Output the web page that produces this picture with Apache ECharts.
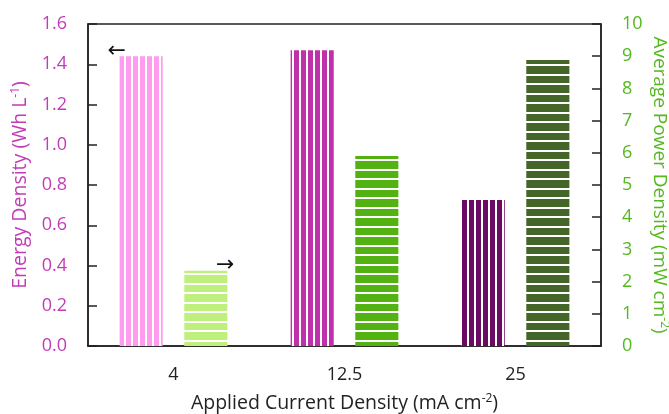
<!DOCTYPE html>
<html>
<head>
<meta charset="utf-8">
<script src="https://cdn.jsdelivr.net/npm/echarts@6/dist/echarts.min.js"></script>
<style>
  html, body { margin: 0; padding: 0; background: #fff; }
  #main { width: 669px; height: 414px; }
</style>
</head>
<body>
<div id="main"></div>
<script>
const categories = ['4', '12.5', '25']
const energy = [1.44, 1.47, 0.725]   // Wh L-1
const power = [2.34, 5.9, 8.88]      // mW cm-2
const energyColors = ['#ff9cf0', '#c030aa', '#6b0a63']
const powerColors = ['#bff07e', '#52b212', '#446628']

const FONT = 'Open Sans'
const LEFT_COLOR = '#c23cb6'
const RIGHT_COLOR = '#55b81f'
const LINE = '#222'

// 竖条纹
function vStripe(color) {
  const c = document.createElement('canvas')
  c.width = 7; c.height = 4
  const ctx = c.getContext('2d')
  ctx.fillStyle = '#fff'
  ctx.fillRect(0, 0, 7, 4)
  ctx.fillStyle = color
  ctx.fillRect(0, 0, 5, 4)
  return { image: c, repeat: 'repeat' }
}
// 横条纹
function hStripe(color) {
  const c = document.createElement('canvas')
  c.width = 4; c.height = 19
  const ctx = c.getContext('2d')
  ctx.fillStyle = '#fff'
  ctx.fillRect(0, 0, 4, 19)
  ctx.fillStyle = color
  ctx.fillRect(0, 0, 4, 7)
  ctx.fillRect(0, 9, 4, 8)
  return { image: c, repeat: 'repeat' }
}

const arrowLabel = (text, pos) => ({
  show: true,
  position: pos,
  align: 'center',
  verticalAlign: 'middle',
  formatter: text,
  color: '#111',
  fontSize: 22,
  fontFamily: 'DejaVu Sans'
})

const sup = color => ({ fontSize: 12, verticalAlign: 'top', padding: [0, 0, 9, 0], color: color, fontFamily: FONT })

const chart = echarts.init(document.getElementById('main'), null, { renderer: 'canvas' })

const option = {
  animation: false,
  textStyle: { fontFamily: FONT },
  grid: {
    left: 88, right: 68, top: 24, bottom: 68,
    outerBoundsMode: 'none',
    show: true, borderColor: LINE, borderWidth: 1.5
  },
  xAxis: {
    type: 'category',
    data: categories,
    name: 'Applied Current Density (mA cm{sup|-2})',
    nameLocation: 'middle',
    nameMoveOverlap: false,
    nameGap: 47,
    nameTextStyle: {
      fontSize: 19.5, color: '#222', fontFamily: FONT,
      rich: { sup: sup('#222') }
    },
    axisLine: { lineStyle: { color: LINE, width: 1.5 } },
    axisTick: { show: false },
    axisLabel: { fontSize: 18, color: '#222', margin: 20 }
  },
  yAxis: [
    {
      type: 'value',
      min: 0, max: 1.6, interval: 0.2,
      name: 'Energy Density (Wh L{sup|-1})',
      nameLocation: 'middle',
      nameMoveOverlap: false,
      nameGap: 57,
      nameTextStyle: {
        fontSize: 19.5, color: LEFT_COLOR, fontFamily: FONT,
        rich: { sup: sup(LEFT_COLOR) }
      },
      axisLine: { show: true, lineStyle: { color: LINE, width: 1.5 } },
      axisTick: { show: true, inside: true, length: 9, lineStyle: { color: LINE, width: 1.5 } },
      axisLabel: { fontSize: 18, color: LEFT_COLOR, margin: 21, formatter: v => v.toFixed(1) },
      splitLine: { show: false }
    },
    {
      type: 'value',
      min: 0, max: 10, interval: 1,
      name: 'Average Power Density (mW cm{sup|-2})',
      nameLocation: 'middle',
      nameMoveOverlap: false,
      nameRotate: -90,
      nameGap: 48,
      nameTextStyle: {
        fontSize: 19, color: RIGHT_COLOR, fontFamily: FONT,
        rich: { sup: sup(RIGHT_COLOR) }
      },
      axisLine: { show: true, lineStyle: { color: LINE, width: 1.5 } },
      axisTick: { show: true, inside: true, length: 9, lineStyle: { color: LINE, width: 1.5 } },
      axisLabel: { fontSize: 18, color: RIGHT_COLOR, margin: 21 },
      splitLine: { show: false }
    }
  ],
  series: [
    {
      name: 'Energy Density',
      type: 'bar',
      yAxisIndex: 0,
      barGap: '50%',
      barCategoryGap: '37%',
      data: energy.map((v, i) => ({
        value: v,
        itemStyle: { color: vStripe(energyColors[i]) },
        label: i === 0 ? arrowLabel('←', [-3, -5]) : { show: false }
      }))
    },
    {
      name: 'Average Power Density',
      type: 'bar',
      yAxisIndex: 1,
      data: power.map((v, i) => ({
        value: v,
        itemStyle: { color: hStripe(powerColors[i]) },
        label: i === 0 ? arrowLabel('→', [41, -5]) : { show: false }
      }))
    }
  ]
}

chart.setOption(option)
</script>
</body>
</html>
